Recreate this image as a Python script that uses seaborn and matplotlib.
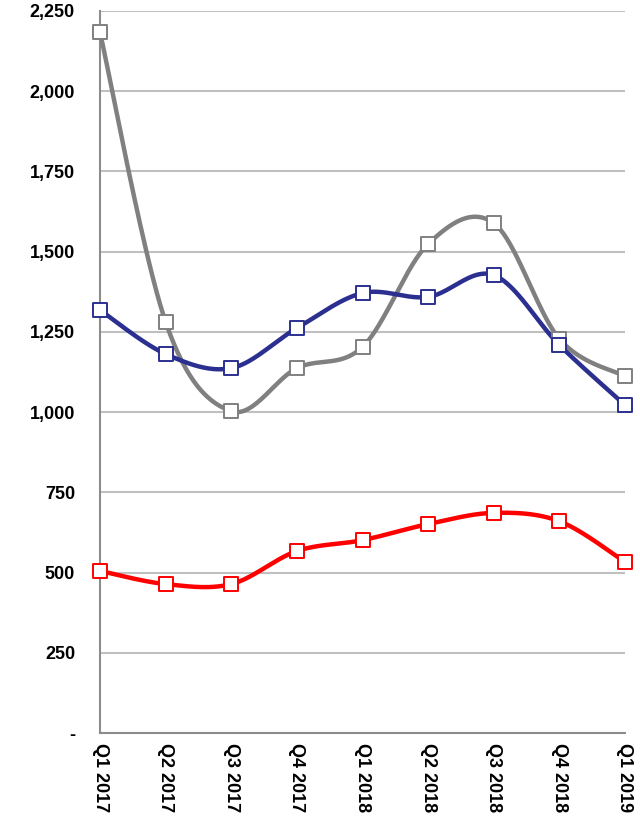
"""
Quarterly series, smoothed lines with square markers.
"""
import numpy as np
import pandas as pd
import matplotlib
matplotlib.use('Agg')
import matplotlib.pyplot as plt
import seaborn as sns

quarters = ['Q1 2017', 'Q2 2017', 'Q3 2017', 'Q4 2017', 'Q1 2018',
            'Q2 2018', 'Q3 2018', 'Q4 2018', 'Q1 2019']
gray_vals = [2184, 1281, 1003, 1137, 1203, 1524, 1589, 1228, 1112]
blue_vals = [1318, 1181, 1137, 1262, 1371, 1359, 1427, 1209, 1022]
red_vals = [505, 464, 464, 567, 601, 651, 686, 660, 533]

series_colors = {'gray': '#808080', 'blue': '#2B2F8F', 'red': '#FF0000'}


def smooth(xs, ys, steps=40):
    """Excel-like smoothed line (Catmull-Rom as cubic Bezier)."""
    pts = np.column_stack([xs, ys]).astype(float)
    n = len(pts)
    out = []
    for i in range(n - 1):
        p0 = pts[max(i - 1, 0)]
        p1 = pts[i]
        p2 = pts[i + 1]
        p3 = pts[min(i + 2, n - 1)]
        c1 = p1 + (p2 - p0) / 6.0
        c2 = p2 - (p3 - p1) / 6.0
        t = np.linspace(0, 1, steps, endpoint=(i == n - 2))[:, None]
        seg = ((1 - t) ** 3) * p1 + 3 * ((1 - t) ** 2) * t * c1 \
            + 3 * (1 - t) * t ** 2 * c2 + t ** 3 * p2
        out.append(seg)
    return np.vstack(out)


sns.set_style('white')
plt.rcParams['font.family'] = ['Liberation Sans', 'DejaVu Sans']

fig = plt.figure(figsize=(6.4, 8.23), dpi=100)
ax = fig.add_axes([100 / 640, 1 - 733 / 823, 525 / 640, 722 / 823])

x_pos = np.arange(len(quarters))
for name, vals in [('gray', gray_vals), ('blue', blue_vals), ('red', red_vals)]:
    curve = smooth(x_pos, vals)
    cdf = pd.DataFrame({'x': curve[:, 0], 'y': curve[:, 1]})
    sns.lineplot(data=cdf, x='x', y='y', ax=ax, color=series_colors[name],
                 linewidth=3.2, sort=False, estimator=None, zorder=3)
    pdf = pd.DataFrame({'x': x_pos, 'y': vals})
    sns.scatterplot(data=pdf, x='x', y='y', ax=ax, marker='s', s=110,
                    facecolor='white', edgecolor=series_colors[name],
                    linewidth=1.4, zorder=4, clip_on=False)

ax.set_xlim(0, len(quarters) - 1)
ax.set_ylim(0, 2250)
yticks = np.arange(0, 2251, 250)
ax.set_yticks(yticks)
ax.set_yticklabels(['-' if v == 0 else f'{v:,}' for v in yticks])
ax.set_xticks(x_pos)
ax.set_xticklabels(quarters, rotation=-90)
ax.set_xlabel('')
ax.set_ylabel('')

ax.yaxis.grid(True, color='#C0C0C0', linewidth=1.5)
ax.set_axisbelow(True)
for side in ['top', 'right']:
    ax.spines[side].set_visible(False)
for side in ['left', 'bottom']:
    ax.spines[side].set_color('#8C8C8C')
    ax.spines[side].set_linewidth(1.5)

ax.tick_params(axis='y', length=4, width=1.5, color='#8C8C8C', pad=14,
               labelsize=13)
ax.tick_params(axis='x', length=4, width=1.5, color='#8C8C8C', pad=3,
               labelsize=13)
for lbl in ax.get_xticklabels() + ax.get_yticklabels():
    lbl.set_fontweight('bold')
    lbl.set_color('black')
for lbl in ax.get_xticklabels():
    lbl.set_va('top')
    lbl.set_ha('center')

fig.savefig('out.png', dpi=100)
plt.close(fig)
